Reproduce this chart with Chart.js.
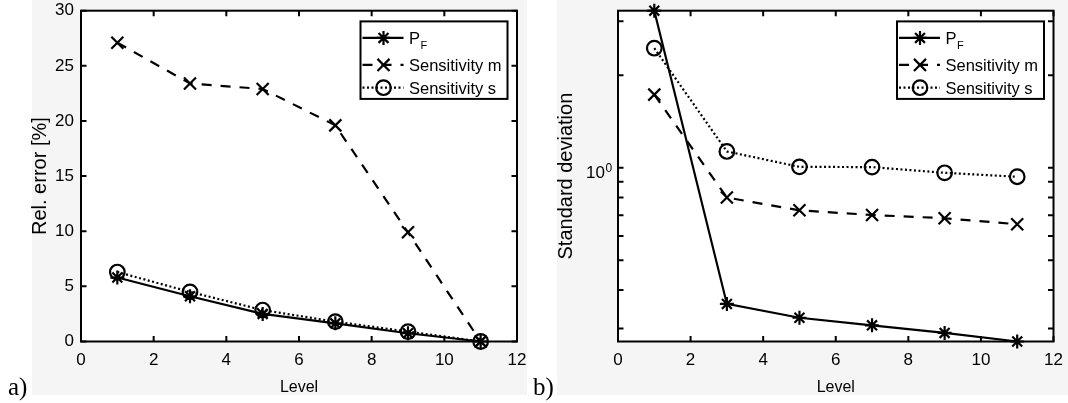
<!DOCTYPE html>
<html><head><meta charset="utf-8">
<script src="https://cdn.jsdelivr.net/npm/chart.js@4/dist/chart.umd.min.js"></script>
<style>
html,body{margin:0;padding:0;background:#fff;width:1068px;height:403px;overflow:hidden;position:relative}
.bg{position:absolute;background:#f5f5f5}
#bg1{left:32px;top:0;width:495px;height:395px}
#bg2{left:557px;top:0;width:511px;height:395px}
.cv{position:absolute;top:0}
#w1{left:0;width:540px;height:403px}
#w2{left:540px;width:528px;height:403px}
.lab{position:absolute;font-family:"Liberation Serif","Times New Roman",serif;font-size:25px;line-height:25px;color:#000}
</style></head><body>
<div class="bg" id="bg1"></div><div class="bg" id="bg2"></div>
<div class="cv" id="w1"><canvas id="c1" width="540" height="403"></canvas></div>
<div class="cv" id="w2"><canvas id="c2" width="528" height="403"></canvas></div>
<div class="lab" style="left:8px;top:374px">a)</div>
<div class="lab" style="left:533px;top:374px">b)</div>
<script>
// ---- data ----
const levels = [1, 3, 5, 7, 9, 11];
const seriesNames = ['P_F', 'Sensitivity m', 'Sensitivity s'];
const relErrPF    = [5.8, 4.1, 2.5, 1.65, 0.75, 0];
const relErrSensM = [27.1, 23.4, 22.9, 19.6, 9.9, 0];
const relErrSensS = [6.3, 4.5, 2.85, 1.8, 0.9, 0];
const stdPF    = [3.245, 0.3605, 0.325, 0.307, 0.29, 0.272];
const stdSensM = [1.73, 0.80, 0.727, 0.702, 0.685, 0.655];
const stdSensS = [2.45, 1.13, 1.007, 1.005, 0.963, 0.935];
const xTicks = [0, 2, 4, 6, 8, 10, 12];
const yTicksLin = [0, 5, 10, 15, 20, 25, 30];
const yTicksLog = [0.3, 0.4, 0.5, 0.6, 0.7, 0.8, 0.9, 1, 2, 3];
const logLabelBase = '10';
const logLabelExp = '0';
const xTitle = 'Level';
const yTitleA = 'Rel. error [%]';
const yTitleB = 'Standard deviation';

// ---- styles ----
const FAM = '"Liberation Sans", Arial, sans-serif';
const LW = 2.2;
const styles = [
  {borderDash: [], pointStyle: 'star', pointRadius: 7},
  {borderDash: [10, 9], pointStyle: 'crossRot', pointRadius: 8.5},
  {borderDash: [2, 2.5], pointStyle: 'circle', pointRadius: 7.3}
];

function makeDatasets(arrs) {
  return arrs.map((arr, i) => Object.assign({
    label: seriesNames[i],
    data: levels.map((x, j) => ({x: x, y: arr[j]})),
    borderColor: '#000', backgroundColor: 'rgba(0,0,0,0)',
    pointBorderColor: '#000', pointBackgroundColor: 'rgba(0,0,0,0)',
    pointBorderWidth: LW, borderWidth: LW, tension: 0, fill: false, clip: false,
    pointHoverRadius: 0
  }, styles[i]));
}

const frame = {
  id: 'frame',
  beforeDraw(chart) {
    const {ctx, chartArea: a} = chart;
    ctx.save(); ctx.fillStyle = '#fff';
    ctx.fillRect(a.left, a.top, a.right - a.left, a.bottom - a.top);
    ctx.restore();
  },
  beforeDatasetsDraw(chart) {
    const {ctx, chartArea: a, scales: {x, y}} = chart;
    const L = 5.5;
    ctx.save(); ctx.strokeStyle = '#000'; ctx.lineWidth = 2;
    ctx.beginPath();
    x.ticks.forEach(t => { const p = x.getPixelForValue(t.value);
      ctx.moveTo(p, a.bottom); ctx.lineTo(p, a.bottom - L);
      ctx.moveTo(p, a.top); ctx.lineTo(p, a.top + L); });
    y.ticks.forEach(t => { const p = y.getPixelForValue(t.value);
      ctx.moveTo(a.left, p); ctx.lineTo(a.left + L, p);
      ctx.moveTo(a.right, p); ctx.lineTo(a.right - L, p); });
    ctx.stroke();
    ctx.strokeRect(a.left, a.top, a.right - a.left, a.bottom - a.top);
    // superscript exponent for log-axis label
    if (y.type === 'logarithmic') {
      const p = y.getPixelForValue(1);
      ctx.fillStyle = '#000'; ctx.font = '12px ' + FAM;
      ctx.textAlign = 'left'; ctx.textBaseline = 'alphabetic';
      ctx.fillText(logLabelExp, a.left - 12.5, p + 4);
    }
    ctx.restore();
  },
  afterDraw(chart) {
    const {ctx, chartArea: a} = chart;
    const W = 147, H = 77.5;
    const bx = a.right - 9.5 - W, by = a.top + 10.7;
    ctx.save();
    ctx.fillStyle = '#fff'; ctx.fillRect(bx, by, W, H);
    ctx.lineWidth = 2; ctx.strokeStyle = '#000'; ctx.strokeRect(bx, by, W, H);
    const rows = [16.5, 43.5, 66.3];
    chart.data.datasets.forEach((ds, i) => {
      const yy = by + rows[i];
      ctx.lineWidth = LW; ctx.strokeStyle = '#000';
      ctx.setLineDash(ds.borderDash || []);
      ctx.beginPath(); ctx.moveTo(bx + 2, yy); ctx.lineTo(bx + 43, yy); ctx.stroke();
      ctx.setLineDash([]);
      ctx.fillStyle = 'rgba(0,0,0,0)';
      Chart.helpers.drawPoint(ctx, {pointStyle: ds.pointStyle, radius: ds.pointRadius, rotation: 0, borderWidth: LW}, bx + 23, yy);
      ctx.fillStyle = '#000'; ctx.textBaseline = 'alphabetic'; ctx.textAlign = 'left';
      const tx = bx + 48.5, base = yy + 6.5;
      const parts = ds.label.split('_');
      ctx.font = '16.5px ' + FAM;
      ctx.fillText(parts[0], tx, base);
      if (parts.length > 1) {
        const w = ctx.measureText(parts[0]).width;
        ctx.font = '11px ' + FAM;
        ctx.fillText(parts[1], tx + w + 0.5, base + 5);
      }
    });
    ctx.restore();
  }
};

const tickFont = {family: FAM, size: 17};
const axTitleFont = {family: FAM, size: 16};
const yTitleFont = {family: FAM, size: 20};
function xScale() {
  return {
    type: 'linear', min: 0, max: 12,
    afterBuildTicks: s => { s.ticks = xTicks.map(v => ({value: v})); },
    grid: {display: false, drawTicks: false}, border: {display: false},
    ticks: {padding: 8.5, font: tickFont, color: '#000', autoSkip: false, maxRotation: 0},
    title: {display: true, text: xTitle, font: axTitleFont, color: '#000', padding: {top: 0, bottom: 5.4}},
    afterFit: s => { s.height = 61.5; s.paddingLeft = 0; s.paddingRight = 0; }
  };
}

new Chart(document.getElementById('c1'), {
  type: 'line',
  data: {datasets: makeDatasets([relErrPF, relErrSensM, relErrSensS])},
  options: {
    responsive: false, animation: false, devicePixelRatio: 1,
    layout: {padding: {left: 0, right: 23, top: 9.3, bottom: 0}},
    plugins: {legend: {display: false}, tooltip: {enabled: false}},
    events: [],
    scales: {
      x: xScale(),
      y: {
        type: 'linear', min: 0, max: 30,
        afterBuildTicks: s => { s.ticks = yTicksLin.map(v => ({value: v})); },
        grid: {display: false, drawTicks: false}, border: {display: false},
        ticks: {padding: 7, font: tickFont, color: '#000', autoSkip: false},
        title: {display: true, text: yTitleA, font: yTitleFont, color: '#000', padding: {top: 28.5, bottom: 0}},
        afterFit: s => { s.width = 81; s.paddingTop = 0; s.paddingBottom = 0; }
      }
    }
  },
  plugins: [frame]
});

new Chart(document.getElementById('c2'), {
  type: 'line',
  data: {datasets: makeDatasets([stdPF, stdSensM, stdSensS])},
  options: {
    responsive: false, animation: false, devicePixelRatio: 1,
    layout: {padding: {left: 0, right: 14.5, top: 9.3, bottom: 0}},
    plugins: {legend: {display: false}, tooltip: {enabled: false}},
    events: [],
    scales: {
      x: xScale(),
      y: {
        type: 'logarithmic', min: Math.min(...stdPF), max: Math.max(...stdPF),
        afterBuildTicks: s => { s.ticks = yTicksLog.map(v => ({value: v, major: v === 1})); },
        grid: {display: false, drawTicks: false}, border: {display: false},
        ticks: {padding: 13, font: tickFont, color: '#000', autoSkip: false, labelOffset: 5.5,
                callback: v => (v === 1 ? logLabelBase : '')},
        title: {display: true, text: yTitleB, font: yTitleFont, color: '#000', padding: {top: 14, bottom: 0}},
        afterFit: s => { s.width = 78; s.paddingTop = 0; s.paddingBottom = 0; }
      }
    }
  },
  plugins: [frame]
});
</script>
</body></html>
